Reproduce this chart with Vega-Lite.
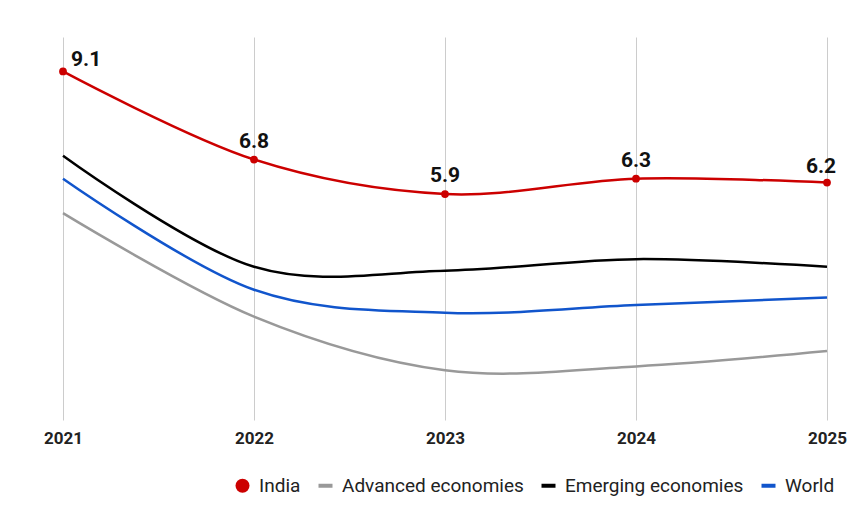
{
  "$schema": "https://vega.github.io/schema/vega-lite/v6.json",
  "width": 764,
  "height": 383,
  "autosize": {"type": "none"},
  "padding": {"left": 63, "top": 37, "right": 25, "bottom": 103},
  "background": "white",
  "config": {"view": {"stroke": null}, "font": "Roboto"},
  "data": {
    "values": [
      {"year": "2021", "series": "India", "value": 9.1},
      {"year": "2022", "series": "India", "value": 6.8},
      {"year": "2023", "series": "India", "value": 5.9},
      {"year": "2024", "series": "India", "value": 6.3},
      {"year": "2025", "series": "India", "value": 6.2},
      {"year": "2021", "series": "Advanced economies", "value": 5.4},
      {"year": "2022", "series": "Advanced economies", "value": 2.7},
      {"year": "2023", "series": "Advanced economies", "value": 1.3},
      {"year": "2024", "series": "Advanced economies", "value": 1.4},
      {"year": "2025", "series": "Advanced economies", "value": 1.8},
      {"year": "2021", "series": "Emerging economies", "value": 6.9},
      {"year": "2022", "series": "Emerging economies", "value": 4.0},
      {"year": "2023", "series": "Emerging economies", "value": 3.9},
      {"year": "2024", "series": "Emerging economies", "value": 4.2},
      {"year": "2025", "series": "Emerging economies", "value": 4.0},
      {"year": "2021", "series": "World", "value": 6.3},
      {"year": "2022", "series": "World", "value": 3.4},
      {"year": "2023", "series": "World", "value": 2.8},
      {"year": "2024", "series": "World", "value": 3.0},
      {"year": "2025", "series": "World", "value": 3.2}
    ]
  },
  "encoding": {
    "x": {
      "field": "year",
      "type": "ordinal",
      "scale": {"type": "point", "padding": 0},
      "axis": {
        "title": null,
        "labelAngle": 0,
        "grid": true,
        "gridColor": "#cccccc",
        "gridWidth": 1,
        "ticks": false,
        "domain": false,
        "labelFont": "Roboto",
        "labelFontSize": 17,
        "labelFontWeight": "bold",
        "labelColor": "#222222",
        "labelPadding": 10
      }
    },
    "y": {
      "field": "value",
      "type": "quantitative",
      "scale": {"domain": [0, 10]},
      "axis": null
    }
  },
  "layer": [
    {
      "transform": [{"filter": "datum.series !== 'India'"}],
      "mark": {"type": "line", "interpolate": "cardinal", "strokeWidth": 2.5},
      "encoding": {
        "color": {
          "field": "series",
          "type": "nominal",
          "scale": {
            "domain": ["India", "Advanced economies", "Emerging economies", "World"],
            "range": ["#cc0000", "#999999", "#000000", "#1155cc"]
          },
          "legend": {
            "title": null,
            "orient": "none",
            "direction": "horizontal",
            "legendX": 170,
            "legendY": 439,
            "labelFont": "Roboto",
            "labelFontSize": 19,
            "labelLimit": 400,
            "labelColor": "#222222",
            "symbolType": "stroke",
            "symbolSize": 196,
            "symbolStrokeWidth": 4,
            "labelOffset": 7,
            "columnPadding": 9,
            "encode": {
              "symbols": {
                "update": {
                  "shape": {"signal": "datum.value === 'India' ? 'circle' : 'stroke'"},
                  "fill": {"scale": "color", "field": "value"},
                  "stroke": {"scale": "color", "field": "value"},
                  "strokeWidth": {"signal": "datum.value === 'India' ? 0 : 4"},
                  "opacity": {"value": 1}
                }
              }
            }
          }
        }
      }
    },
    {
      "transform": [{"filter": "datum.series === 'India'"}],
      "mark": {"type": "line", "interpolate": "cardinal", "strokeWidth": 2.5},
      "encoding": {
        "color": {"field": "series", "type": "nominal", "legend": null}
      }
    },
    {
      "transform": [{"filter": "datum.series === 'India'"}],
      "mark": {"type": "point", "filled": true, "size": 60, "opacity": 1},
      "encoding": {
        "color": {"field": "series", "type": "nominal", "legend": null}
      }
    },
    {
      "transform": [{"filter": "datum.series === 'India' && datum.year === '2021'"}],
      "mark": {"type": "text", "align": "left", "baseline": "alphabetic", "dx": 8, "dy": -5, "fontSize": 21, "fontWeight": "bold", "font": "Roboto", "color": "#111111"},
      "encoding": {"text": {"field": "value", "type": "quantitative", "format": ".1f"}}
    },
    {
      "transform": [{"filter": "datum.series === 'India' && datum.year !== '2021' && datum.year !== '2025'"}],
      "mark": {"type": "text", "align": "center", "baseline": "alphabetic", "dy": -12, "fontSize": 21, "fontWeight": "bold", "font": "Roboto", "color": "#111111"},
      "encoding": {"text": {"field": "value", "type": "quantitative", "format": ".1f"}}
    },
    {
      "transform": [{"filter": "datum.series === 'India' && datum.year === '2025'"}],
      "mark": {"type": "text", "align": "center", "baseline": "alphabetic", "dx": -6, "dy": -10, "fontSize": 21, "fontWeight": "bold", "font": "Roboto", "color": "#111111"},
      "encoding": {"text": {"field": "value", "type": "quantitative", "format": ".1f"}}
    }
  ]
}
